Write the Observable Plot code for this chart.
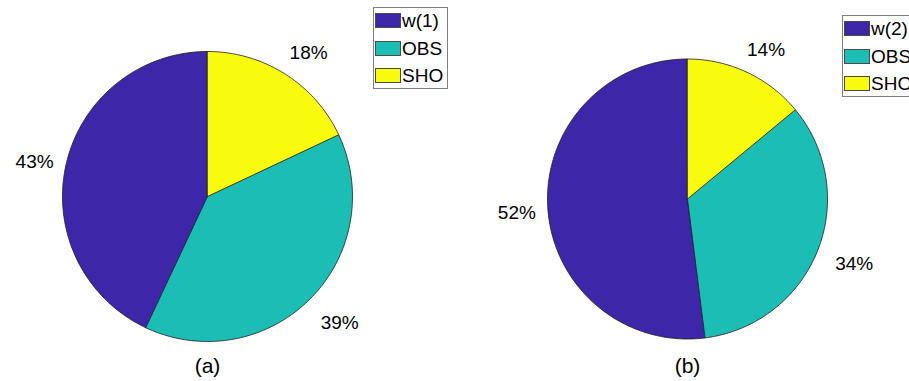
<!DOCTYPE html>
<html>
<head>
<meta charset="utf-8">
<script src="https://cdn.jsdelivr.net/npm/d3@7"></script>
<script src="https://cdn.jsdelivr.net/npm/@observablehq/plot@0.6"></script>
<style>
  html, body { margin: 0; padding: 0; background: #fff; overflow: hidden; }
  #fig { position: relative; width: 909px; height: 381px; overflow: hidden;
         font-family: "Liberation Sans", Arial, sans-serif; }
  .panel { position: absolute; top: 0; }
  .legend { position: absolute; width: 75px; height: 82px; box-sizing: border-box;
            border: 1px solid #808080; background: #fff; }
  .row { position: absolute; left: 1px; height: 15px; display: flex; align-items: center; }
  .swatch { width: 26px; height: 15px; box-sizing: border-box; border: 1px solid #4a4a4a; }
  .row span { margin-left: 1px; font-size: 19px; line-height: 15px; color: #000; white-space: nowrap; }
</style>
</head>
<body>
<div id="fig"></div>
<script>
// Slice shares (percent) for each pie, in drawing order (counter-clockwise from 12 o'clock)
const legendA = ["w(1)", "OBS", "SHO"];
const sharesA = [43, 39, 18];
const legendB = ["w(2)", "OBS", "SHO"];
const sharesB = [52, 34, 14];
const seriesKeys = ["w", "OBS", "SHO"];
const sliceColors = ["#3E26A8", "#1BBDB4", "#F9FB0E"];
const captions = ["(a)", "(b)"];

// Panel placement: pie centre/radius in pixels (relative to the panel), legend box position in the figure
const panels = [
  {names: legendA, shares: sharesA, caption: captions[0],
   left: 0, width: 455, cx: 207, cy: 196, r: 145, legendLeft: 373, legendTop: 7},
  {names: legendB, shares: sharesB, caption: captions[1],
   left: 455, width: 454, cx: 232, cy: 198.5, r: 140, legendLeft: 842, legendTop: 15}
];

// Angular extent of each slice, measured counter-clockwise from the top
function slices(shares) {
  const total = d3.sum(shares);
  let start = 0;
  return shares.map((v, i) => {
    const a0 = start, a1 = start + v / total * 2 * Math.PI;
    start = a1;
    return {key: seriesKeys[i], value: v, a0, a1, mid: (a0 + a1) / 2};
  });
}

// Closed wedge outline on the unit circle
function wedge(s) {
  const n = Math.max(2, Math.ceil((s.a1 - s.a0) / (Math.PI / 180)));
  const pts = [{key: s.key, x: 0, y: 0}];
  for (let k = 0; k <= n; ++k) {
    const t = s.a0 + (s.a1 - s.a0) * k / n;
    pts.push({key: s.key, x: -Math.sin(t), y: Math.cos(t)});
  }
  return pts;
}

const fig = document.getElementById("fig");
// Percentage labels sit just outside the rim at each slice's mid-angle
const labelRadiusX = 1.25;
const labelRadiusY = 1.2;

for (const P of panels) {
  const sl = slices(P.shares);
  const pts = sl.flatMap(wedge);

  const chart = Plot.plot({
    width: P.width,
    height: 381,
    margin: 0,
    style: {fontFamily: "'Liberation Sans', Arial, sans-serif", background: "transparent", overflow: "visible"},
    x: {domain: [-1, 1], range: [P.cx - P.r, P.cx + P.r], axis: null},
    y: {domain: [-1, 1], range: [P.cy + P.r, P.cy - P.r], axis: null},
    color: {domain: seriesKeys, range: sliceColors},
    marks: [
      Plot.line(pts, {x: "x", y: "y", z: "key", fill: "key", stroke: "#1e1e1e",
                      strokeWidth: 0.8, curve: "linear-closed"}),
      Plot.text(sl, {
        x: d => -labelRadiusX * Math.sin(d.mid),
        y: d => labelRadiusY * Math.cos(d.mid),
        text: d => d.value + "%",
        dx: 4, dy: 3,
        fontSize: 19, fill: "#000", textAnchor: "middle", lineAnchor: "middle"
      }),
      Plot.text([P.caption], {x: () => 0, frameAnchor: "bottom", dy: -15,
                              text: d => d, fontSize: 21, fill: "#000", lineAnchor: "middle"})
    ]
  });
  chart.classList.add("panel");
  chart.style.left = P.left + "px";
  fig.appendChild(chart);

  // Legend box
  const lg = document.createElement("div");
  lg.className = "legend";
  lg.style.left = P.legendLeft + "px";
  lg.style.top = P.legendTop + "px";
  P.names.forEach((name, i) => {
    const row = document.createElement("div");
    row.className = "row";
    row.style.top = (5 + i * 27.5) + "px";
    const sw = document.createElement("div");
    sw.className = "swatch";
    sw.style.background = sliceColors[i];
    const tx = document.createElement("span");
    tx.textContent = name;
    row.appendChild(sw);
    row.appendChild(tx);
    lg.appendChild(row);
  });
  fig.appendChild(lg);
}
</script>
</body>
</html>
